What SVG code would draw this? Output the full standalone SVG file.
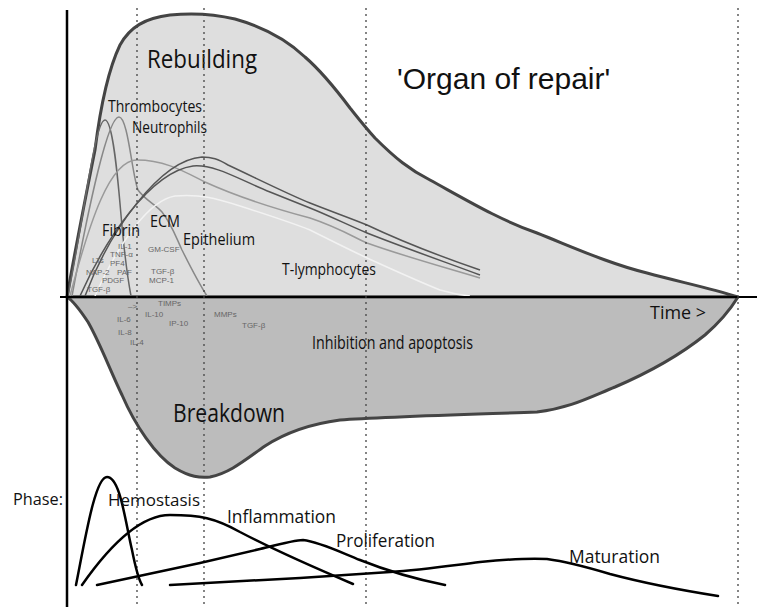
<svg xmlns="http://www.w3.org/2000/svg" width="757" height="607" viewBox="0 0 757 607">
<style>
.lbl{font-family:"Open Sans","Noto Sans",sans-serif;fill:#111}
.sm{font-family:"Liberation Sans",Arial,sans-serif;font-size:8px;fill:#666}
.outline{stroke:#444;stroke-width:3;stroke-linejoin:round}
.dot{stroke:#444;stroke-width:1.3;stroke-dasharray:2 4;fill:none}
.cell{fill:none;stroke-width:1.5}
.phase{fill:none;stroke:#000;stroke-width:2.5;stroke-linecap:round;stroke-linejoin:round}
</style>
<rect width="757" height="607" fill="#fff"/>
<g id="rebuilding">
<path class="outline" fill="#dedede" d="M67,297 C75,250 85,200 95,150 C100,110 108,70 120,45 C130,27 145,18 170,15 C190,13 210,13 235,19 C260,26 285,38 305,57 C320,70 335,88 350,108 C358,118 365,127 375,138 C395,158 410,170 430,180 C470,202 500,220 537,233 C575,248 610,264 647,273 C680,282 710,288 738,297 Z"/>
<text class="lbl" x="147" y="68" font-size="25" textLength="110" lengthAdjust="spacingAndGlyphs">Rebuilding</text>
</g>
<g id="breakdown">
<path class="outline" fill="#bcbcbc" d="M67,297 C72,300 80,310 88,322 C100,343 110,370 122,395 C135,425 155,455 175,468 C190,477 200,478 210,477 C230,473 245,460 265,446 C285,433 310,424 340,420 C380,417 450,415 537,412 C570,408 590,397 615,387 C650,372 680,355 705,335 C720,322 730,310 738,297 Z"/>
<text class="lbl" x="173" y="422" font-size="25" textLength="112" lengthAdjust="spacingAndGlyphs">Breakdown</text>
<text class="lbl" x="312" y="349" font-size="18" textLength="161" lengthAdjust="spacingAndGlyphs">Inhibition and apoptosis</text>
</g>
<g id="cells">
<path class="cell" stroke="#666" d="M68,296 C85,210 95,120 105,120 C113,120 118,180 121,215 C124,250 128,280 131,296"/>
<path class="cell" stroke="#888" d="M72,296 C90,200 108,117 119,117 C128,117 132,175 138,190 C145,200 155,204 162,212 C172,225 175,235 182,250 C192,270 200,285 207,296"/>
<path class="cell" stroke="#9a9a9a" d="M70,296 C90,220 110,160 137,160 C165,160 185,172 205,182 C240,198 280,210 310,218 C340,228 355,238 367,243 C400,255 440,266 480,278"/>
<path class="cell" stroke="#555" d="M85,296 C110,230 160,160 202,157 C212,157 218,159 228,165 C260,180 290,195 310,203 C330,211 350,218 367,225 C405,243 445,258 480,270"/>
<path class="cell" stroke="#555" d="M80,296 C105,240 150,172 193,166 C215,164 240,180 270,192 C290,200 300,204 310,208 C330,216 350,226 367,233 C405,248 445,262 480,275"/>
<path class="cell" stroke="#f2f2f2" d="M95,296 C120,240 150,200 175,196 C200,194 215,198 240,206 C265,214 290,222 310,230 C330,240 350,250 367,258 C400,273 420,282 440,290 C450,293 460,295 470,296"/>
<text class="lbl" x="108" y="112" font-size="16.5" textLength="94" lengthAdjust="spacingAndGlyphs">Thrombocytes</text>
<text class="lbl" x="132" y="133" font-size="16.5" textLength="75" lengthAdjust="spacingAndGlyphs">Neutrophils</text>
<text class="lbl" x="102" y="236" font-size="16.5" textLength="38" lengthAdjust="spacingAndGlyphs">Fibrin</text>
<text class="lbl" x="150" y="227" font-size="16.5" textLength="30" lengthAdjust="spacingAndGlyphs">ECM</text>
<text class="lbl" x="183" y="245" font-size="16.5" textLength="72" lengthAdjust="spacingAndGlyphs">Epithelium</text>
<text class="lbl" x="282" y="275" font-size="16.5" textLength="94" lengthAdjust="spacingAndGlyphs">T-lymphocytes</text>
</g>
<g id="mediators">
<text class="sm" x="118" y="249">IL-1</text>
<text class="sm" x="110" y="257">TNF-α</text>
<text class="sm" x="92" y="263">LTs</text>
<text class="sm" x="110" y="266">PF4</text>
<text class="sm" x="86" y="275">NAP-2</text>
<text class="sm" x="117" y="275">PAF</text>
<text class="sm" x="102" y="283">PDGF</text>
<text class="sm" x="87" y="292">TGF-β</text>
<text class="sm" x="148" y="252">GM-CSF</text>
<text class="sm" x="151" y="274">TGF-β</text>
<text class="sm" x="149" y="283">MCP-1</text>
<text class="sm" x="128" y="309">–&gt;</text>
<text class="sm" x="158" y="306">TIMPs</text>
<text class="sm" x="145" y="317">IL-10</text>
<text class="sm" x="117" y="322">IL-6</text>
<text class="sm" x="169" y="326">IP-10</text>
<text class="sm" x="118" y="335">IL-8</text>
<text class="sm" x="130" y="345">IL-4</text>
<text class="sm" x="214" y="317" font-size="6.5">MMPs</text>
<text class="sm" x="242" y="328">TGF-β</text>
</g>
<g id="axes">
<line x1="67" y1="10" x2="67" y2="607" stroke="#000" stroke-width="2.5"/>
<line x1="60" y1="297" x2="757" y2="297" stroke="#000" stroke-width="2"/>
<line class="dot" x1="137" y1="8" x2="137" y2="607"/>
<line class="dot" x1="204" y1="8" x2="204" y2="607"/>
<line class="dot" x1="366" y1="8" x2="366" y2="607"/>
<line class="dot" x1="738" y1="8" x2="738" y2="607"/>
<text class="lbl" x="650" y="319" font-size="18" textLength="56" lengthAdjust="spacingAndGlyphs">Time &gt;</text>
</g>
<g id="title">
<text x="397" y="89" font-family="Liberation Sans, Arial, sans-serif" font-size="30" fill="#111">'Organ of repair'</text>
</g>
<g id="phases">
<text class="lbl" x="13" y="505" font-size="17" textLength="50" lengthAdjust="spacingAndGlyphs">Phase:</text>
<path class="phase" d="M76,585 C85,540 95,477 107,477 C120,477 125,520 132,550 C136,570 139,580 142,585"/>
<path class="phase" d="M82,585 C110,545 140,515 170,515 C200,515 215,518 240,532 C280,553 320,570 353,584"/>
<path class="phase" d="M97,585 L200,563 L260,549 C280,544 295,540 303,540 C320,542 340,552 360,560 C390,572 420,580 445,585"/>
<path class="phase" d="M170,585 L300,578 L390,572 C420,570 440,567 480,562 C500,560 530,558 547,559 C570,562 590,568 610,574 C640,582 680,590 718,596"/>
<text class="lbl" x="108" y="506" font-size="17" textLength="92" lengthAdjust="spacingAndGlyphs">Hemostasis</text>
<text class="lbl" x="227" y="523" font-size="18" textLength="109" lengthAdjust="spacingAndGlyphs">Inflammation</text>
<text class="lbl" x="336" y="547" font-size="18" textLength="99" lengthAdjust="spacingAndGlyphs">Proliferation</text>
<text class="lbl" x="569" y="563" font-size="18" textLength="91" lengthAdjust="spacingAndGlyphs">Maturation</text>
</g>
</svg>
